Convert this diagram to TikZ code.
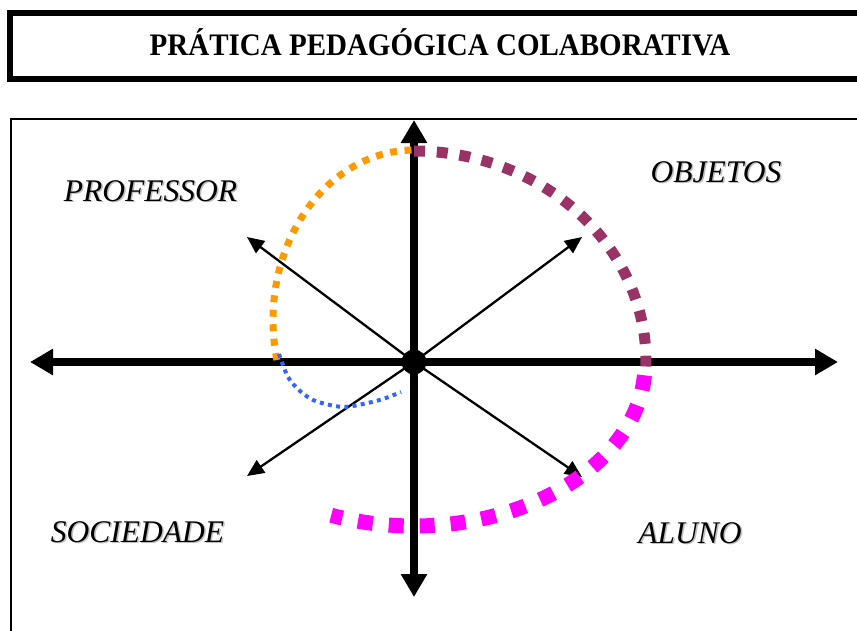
\documentclass[tikz,border=0pt]{standalone}
\usepackage{fontspec}
\setmainfont{Liberation Serif}
\usetikzlibrary{arrows.meta}
\definecolor{orng}{HTML}{FF9900}
\definecolor{plum}{HTML}{993366}
\definecolor{mgnt}{HTML}{FF00FF}
\definecolor{blu}{HTML}{3366FF}
\begin{document}
\begin{tikzpicture}[x=1pt,y=-1pt,
  axisline/.style={line width=8.8pt,{Triangle[length=23pt,width=25pt]}-{Triangle[length=23pt,width=25pt]}},
  diagarrow/.style={line width=2.3pt,-{Triangle[length=17pt,width=15pt]}},
  lbl/.style={font=\fontsize{31.5}{36}\selectfont\itshape,anchor=base,inner sep=0pt},
  shadowlbl/.style={lbl,text=black!25},
  orangedots/.style={orng,line width=7pt,line cap=butt,dash pattern=on 7pt off 7.5pt},
  plumdots/.style={plum,line width=11pt,line cap=butt,dash pattern=on 11pt off 11.8pt},
  magentadots/.style={mgnt,line width=15pt,line cap=butt,dash pattern=on 15pt off 16pt},
  bluedots/.style={blu,line width=4pt,line cap=butt,dash pattern=on 4pt off 4.3pt},
  titlebox/.style={line width=6pt},
  framebox/.style={line width=2pt}]
\useasboundingbox (0,0) rectangle (857,630);
% frames
\draw[titlebox] (10.3,13) rectangle (900,78.5);
\node[font=\fontsize{29}{34}\selectfont\bfseries,anchor=base,inner sep=0pt,yscale=1.08] (title) at (440,55.5) {PRÁTICA PEDAGÓGICA COLABORATIVA};
\draw[framebox] (11,119) rectangle (900,700);
% axes
\coordinate (O) at (414,362);
\coordinate (L) at (30,362);
\coordinate (R) at (838,362);
\coordinate (T) at (414,120);
\coordinate (B) at (414,597);
\coordinate (UL) at (247,237);
\coordinate (UR) at (582,237);
\coordinate (LL) at (247,476);
\coordinate (LR) at (582,477);
\draw[axisline] (L) -- (R);
\draw[axisline] (T) -- (B);
\draw[diagarrow] (O) -- (UL);
\draw[diagarrow] (O) -- (UR);
\draw[diagarrow] (O) -- (LL);
\draw[diagarrow] (O) -- (LR);
\fill (O) circle (12.5pt);
% spiral
\draw[orangedots] plot[domain=193.6:90,samples=80,variable=\t] ({414+141*cos(\t)},{320-170*sin(\t)});
\draw[plumdots] plot[domain=90:-1.5,samples=80,variable=\t] ({414+232*cos(\t)},{361-210*sin(\t)});
\draw[magentadots] plot[domain=-4:-111,samples=100,variable=\t] ({414+231*cos(\t)},{364-162*sin(\t)});
\draw[bluedots] plot[smooth] coordinates {(279,354) (288,377) (300,391) (313,400) (330,405) (345,407) (363,404) (383,399) (401,392)};
% labels
\node[shadowlbl] (profS) at (152,202.5) {PROFESSOR};
\node[lbl] (prof) at (150.5,201) {PROFESSOR};
\node[shadowlbl] (objS) at (717.5,183.5) {OBJETOS};
\node[lbl] (obj) at (716,182) {OBJETOS};
\node[shadowlbl] (socS) at (139,543.5) {SOCIEDADE};
\node[lbl] (soc) at (137.5,542) {SOCIEDADE};
\node[shadowlbl] (aluS) at (691.5,544.5) {ALUNO};
\node[lbl] (alu) at (690,543) {ALUNO};
\end{tikzpicture}
\end{document}
